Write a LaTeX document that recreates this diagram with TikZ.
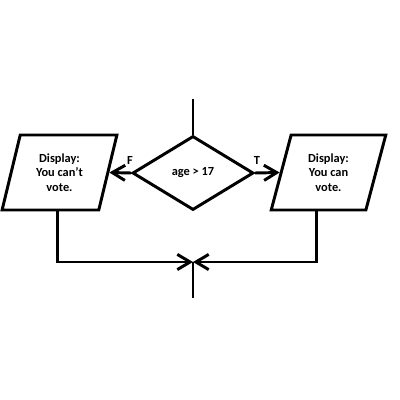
\documentclass[tikz,border=0pt]{standalone}
\usepackage{fontspec}
\setmainfont{Carlito}
\usetikzlibrary{shapes.geometric,arrows.meta}
\begin{document}
\begin{tikzpicture}[x=0.025cm,y=-0.025cm,line width=2.1pt,
  font=\fontsize{8.8}{10.3}\selectfont\bfseries,
  >={Straight Barb[length=3.2mm,width=3.8mm]},
  io/.style={draw,trapezium,trapezium left angle=74,trapezium right angle=106,trapezium stretches=true,minimum width=2.875cm,minimum height=1.875cm,align=center,inner sep=0pt},
  decide/.style={draw,diamond,minimum width=3.025cm,minimum height=1.85cm,inner sep=0pt}]
\useasboundingbox (0,0) rectangle (400,400);
\coordinate (start) at (193,99);
\node[decide] (dec) at (193,173) {age > 17};
\node[io] (no) at (59.5,172.5) {Display:\\You can't\\vote.};
\node[io] (yes) at (328.5,172.5) {Display:\\You can\\vote.};
\node (flbl) at (130,160) {F};
\node (tlbl) at (257,160) {T};
\coordinate (join) at (193,262);
\coordinate (stop) at (193,298);
\draw (start) -- (dec.north);
\draw[->] (dec.west) -- (no.east);
\draw[->] (dec.east) -- (yes.west);
\draw[->] ([xshift=-0.04cm]no.south) |- (join);
\draw[->] ([xshift=-0.29cm]yes.south) |- (join);
\draw (join) -- (stop);
\end{tikzpicture}
\end{document}
